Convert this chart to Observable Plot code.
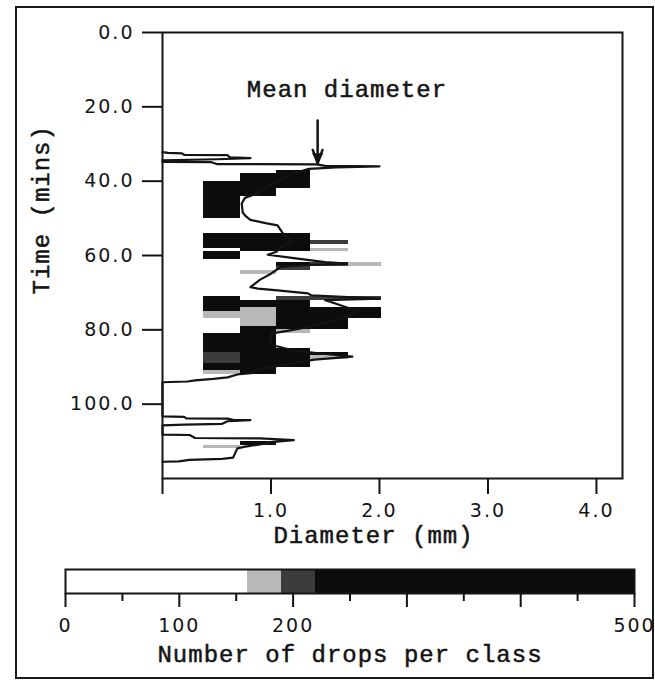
<!DOCTYPE html>
<html><head><meta charset="utf-8">
<script src="https://cdn.jsdelivr.net/npm/d3@7"></script>
<script src="https://cdn.jsdelivr.net/npm/@observablehq/plot@0.6"></script>
<style>
html,body{margin:0;padding:0;background:#fff}
body{width:655px;height:681px;position:relative;overflow:hidden}
#main{position:absolute;left:0;top:0}
#legend{position:absolute;left:0;top:555px}
#border{position:absolute;left:15px;top:6px;width:639px;height:673px;box-sizing:border-box;border:2px solid #1a1a1a;pointer-events:none}
svg{letter-spacing:2px}
svg [font-family*="Liberation Mono"]{letter-spacing:1px}
</style></head><body>
<div id="main"></div><div id="legend"></div><div id="border"></div>
<script>
// ---- data ----
const minuteStart = 36;                       // first one-minute bin of the arrays below
const classEdges = [0.38, 0.72, 1.05, 1.36, 1.71, 2.02]; // diameter classes (mm)
// drops per class, one value per minute (36 .. 95)
const class0 = [0,0,0,0,340,360,380,370,350,330, 320,310,300,280,0,0,0,0,290,320,
                310,270,0,240,250,0,0,0,0,0, 0,0,0,0,0,260,250,280,260,175,
                170,0,0,0,0,300,330,340,320,290, 205,210,200,260,240,165,0,0,0,0];
const class1 = [0,0,300,330,350,340,300,260,0,0, 0,0,0,0,0,0,0,0,280,320,
                330,300,260,0,0,0,0,0,170,0, 0,0,0,0,0,0,240,250,175,180,
                170,175,170,280,320,350,380,400,390,380, 370,360,340,310,270,240,0,0,0,0];
const class2 = [0,240,300,320,300,260,0,0,0,0, 0,0,0,0,0,0,0,0,270,300,
                310,290,250,0,0,0,260,210,0,0, 0,0,0,0,0,200,260,300,330,350,
                340,320,290,250,170,0,0,0,0,240, 290,300,270,230,0,0,0,0,0,0];
const class3 = [0,0,0,0,0,0,0,0,0,0, 0,0,0,0,0,0,0,0,0,0,
                200,0,170,0,0,0,205,0,0,0, 0,0,0,0,0,210,0,0,250,290,
                300,280,260,230,0,0,0,0,0,0, 240,175,0,0,0,0,0,0,0,0];
const class4 = [0,0,0,0,0,0,0,0,0,0, 0,0,0,0,0,0,0,0,0,0,
                0,0,0,0,0,0,170,0,0,0, 0,0,0,0,0,200,0,0,240,270,
                230,0,0,0,0,0,0,0,0,0, 0,0,0,0,0,0,0,0,0,0];
// late shower
const lateMinute = [110, 111];
const lateClass = [1, 0];
const lateCount = [290, 172];
// mean diameter trace [time (min), diameter (mm)]
const meanDiameterTrace = [
  [32.2,0],[32.4,0.05],[32.5,0.18],[32.9,0.2],[33.0,0.6],[33.6,0.62],[33.8,0.81],[34.1,0.5],[34.4,0],
  [34.8,0],[34.9,0.45],[35.4,0.5],[35.5,1.42],[35.9,1.5],[36.0,2.0],[36.3,1.6],[36.7,1.35],[38,1.2],
  [40,1.05],[42,0.95],[43.5,0.85],[44.5,0.76],[46,0.73],[48.5,0.74],[49.5,0.77],[50.4,0.81],[51.3,0.95],
  [51.9,1.06],[53.2,1.09],[54.5,1.12],[56.2,1.2],[57.5,1.1],[59.0,1.05],[59.8,0.97],[60.7,1.21],[61.8,1.5],
  [62.2,1.7],[62.6,1.3],[63.1,1.09],[64.9,1.0],[66.5,0.9],[68.5,0.81],[68.9,0.88],[69.4,1.06],[70.2,1.34],
  [70.7,1.37],[71.6,2.0],[72.0,1.5],[73,1.6],[75,1.8],[76.5,1.7],[78,1.5],[79.5,1.3],[80.3,1.15],[81,1.0],
  [84,1.0],[85.5,1.2],[86.5,1.5],[87.2,1.75],[88,1.4],[89.5,1.1],[90.3,0.95],[90.9,0.84],[91.6,0.84],
  [92.0,0.69],[92.8,0.6],[93.2,0.47],[93.6,0.3],[93.9,0.23],[94.1,0],[103.3,0],[103.4,0.2],[103.8,0.22],
  [103.9,0.6],[104.2,0.65],[104.3,0.81],[104.6,0.6],[105.3,0.55],[105.5,0.2],[105.7,0],[108.2,0],
  [108.3,0.25],[109.1,0.3],[109.2,0.9],[109.7,1.21],[110.2,1.0],[110.8,0.9],[111.5,0.75],[111.9,0.69],
  [114.4,0.65],[114.7,0.55],[115.0,0.25],[115.4,0.15],[115.5,0]
];
const timeTicks = [0, 20, 40, 60, 80, 100];
const diameterTicks = [0, 1, 2, 3, 4];
const countThresholds = [160, 190, 220];
const countColors = ["#ffffff", "#b8b8b8", "#3c3c3c", "#0c0c0c"];
const legendBreaks = [0, 160, 190, 220, 500];
const legendMajorTicks = [0, 100, 200, 300, 400, 500];
const legendMinorTicks = [50, 150, 250, 350, 450];
const legendLabelled = [0, 100, 200, 500];
const annotationText = ["Mean diameter"];
const annotationDiam = [1.70];
const annotationTime = [15.3];
const arrowDiam = [1.43];
const arrowFrom = [23.7];
const arrowTo = [35.2];
const arrowHeadTime = [33.4];

// ---- tables ----
const cells = [];
[class0, class1, class2, class3, class4].forEach((arr, k) => arr.forEach((n, i) => {
  if (n > 0) cells.push({d0: classEdges[k], d1: classEdges[k + 1], t0: minuteStart + i, t1: minuteStart + i + 1, count: n});
}));
lateMinute.forEach((m, j) => cells.push({d0: classEdges[lateClass[j]], d1: classEdges[lateClass[j] + 1], t0: m, t1: m + 1, count: lateCount[j]}));
const mean = meanDiameterTrace.map(([t, d]) => ({t, d}));
const notes = annotationText.map((s, i) => ({s, d: annotationDiam[i], t: annotationTime[i]}));
const arrows = arrowDiam.map((d, i) => ({d, t1: arrowFrom[i], t2: arrowTo[i], th: arrowHeadTime[i]}));
const bands = legendBreaks.slice(0, -1).map((b, i) => ({a: b, b: legendBreaks[i + 1], mid: (b + legendBreaks[i + 1]) / 2}));

const color = {type: "threshold", domain: countThresholds, range: countColors};
const ink = "#141414";
const mono = "Liberation Mono";
const sans = "DejaVu Sans";
const monoText = {fontFamily: mono, fontSize: 24, fill: ink, stroke: ink, strokeWidth: 0.5};

const main = Plot.plot({
  width: 655, height: 555,
  marginLeft: 162, marginRight: 33, marginTop: 32, marginBottom: 77,
  style: {fontFamily: sans, fontSize: "19px", color: ink, background: "transparent"},
  x: {domain: [0, 4.24], label: null},
  y: {domain: [0, 120], reverse: true, label: null},
  color,
  marks: [
    Plot.rect(cells, {x1: "d0", x2: "d1", y1: "t0", y2: "t1", fill: "count", shapeRendering: "crispEdges"}),
    Plot.line(mean, {x: "d", y: "t", stroke: ink, strokeWidth: 2.2}),
    Plot.frame({stroke: ink, strokeWidth: 2}),
    Plot.axisY({ticks: timeTicks, tickFormat: d3.format(".1f"), tickSize: 20, tickPadding: 8, strokeWidth: 2, label: null}),
    Plot.axisX({ticks: diameterTicks, tickFormat: d => d === 0 ? "" : d.toFixed(1), tickSize: 16, tickPadding: 9, strokeWidth: 2, label: null}),
    Plot.text(["Diameter (mm)"], {frameAnchor: "bottom", dx: -19, dy: 64, ...monoText}),
    Plot.text(["Time (mins)"], {frameAnchor: "left", rotate: -90, dx: -121, dy: 39, ...monoText}),
    Plot.text(notes, {x: "d", y: "t", text: "s", ...monoText}),
    Plot.arrow(arrows, {x1: "d", x2: "d", y1: "t1", y2: "t2", stroke: ink, strokeWidth: 2.5, headLength: 16, headAngle: 40}),
    Plot.dot(arrows, {x: "d", y: "th", symbol: "triangle", rotate: 180, r: 4.2, fill: ink, stroke: null})
  ]
});
document.getElementById("main").appendChild(main);

const legend = Plot.plot({
  width: 655, height: 126,
  marginLeft: 65, marginRight: 21, marginTop: 14, marginBottom: 88,
  style: {fontFamily: sans, fontSize: "19px", color: ink, background: "transparent"},
  x: {domain: [0, 500], label: null},
  color,
  marks: [
    Plot.rect(bands, {x1: "a", x2: "b", fill: "mid", shapeRendering: "crispEdges"}),
    Plot.frame({stroke: ink, strokeWidth: 2}),
    Plot.axisX({ticks: legendMajorTicks, tickFormat: d => legendLabelled.includes(d) ? String(d) : "", tickSize: 14, tickPadding: 11, strokeWidth: 2, label: null}),
    Plot.axisX({ticks: legendMinorTicks, tickFormat: () => "", tickSize: 8, strokeWidth: 2, label: null}),
    Plot.text(["Number of drops per class"], {frameAnchor: "bottom", dy: 68, ...monoText})
  ]
});
document.getElementById("legend").appendChild(legend);
</script>
</body></html>
